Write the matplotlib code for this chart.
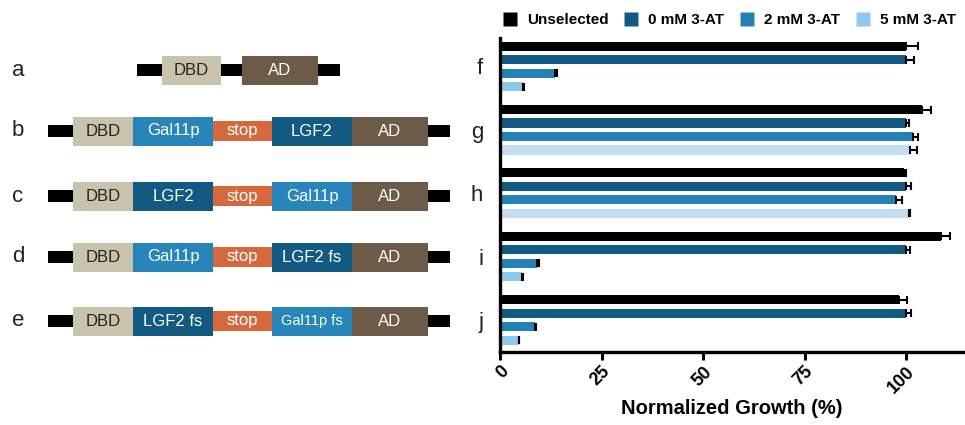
import matplotlib
matplotlib.use("Agg")
import matplotlib.pyplot as plt
from matplotlib.patches import Rectangle
from matplotlib.lines import Line2D
import numpy as np

plt.rcParams['font.family'] = ['Liberation Sans', 'DejaVu Sans']

# ---------------- data ----------------
groups = ['f', 'g', 'h', 'i', 'j']
series = ['Unselected', '0 mM 3-AT', '2 mM 3-AT', '5 mM 3-AT']
unselected = [100, 104, 99.4, 108.6, 98.3]
err_unsel = [3, 2, 0.5, 2.3, 1.8]
mm0 = [100, 100, 100, 100, 100]
err_mm0 = [2, 0.8, 1.2, 1.0, 1.2]
mm2 = [13.6, 101.6, 97.5, 9.2, 8.6]
err_mm2 = [0.4, 1.2, 1.5, 0.5, 0.3]
mm5 = [5.7, 101, 100.6, 5.3, 4.8]
err_mm5 = [0.3, 1.7, 0.3, 0.3, 0.0]
xticks = [0, 25, 50, 75, 100]

construct_labels = ['a', 'b', 'c', 'd', 'e']
constructs = [
    ['DBD', 'AD'],
    ['DBD', 'Gal11p', 'stop', 'LGF2', 'AD'],
    ['DBD', 'LGF2', 'stop', 'Gal11p', 'AD'],
    ['DBD', 'Gal11p', 'stop', 'LGF2 fs', 'AD'],
    ['DBD', 'LGF2 fs', 'stop', 'Gal11p fs', 'AD'],
]

# ---------------- styles ----------------
c_black = '#000000'
c_0 = '#135a82'
c_2 = '#2382b5'
c_5 = '#8fc8ec'
c_5pale = '#c5ddf0'
seg_color = {'DBD': '#c9c3ad', 'Gal11p': '#2785ba', 'Gal11p fs': '#2785ba',
             'stop': '#d3693c', 'LGF2': '#135a82', 'LGF2 fs': '#135a82',
             'AD': '#6b5b48'}

W, H = 965, 425
fig = plt.figure(figsize=(W / 100, H / 100), dpi=100)

# ---------------- left panel (diagrams) ----------------
axd = fig.add_axes([0, 0, 1, 1])
axd.set_xlim(0, W)
axd.set_ylim(H, 0)
axd.axis('off')

row_y = [70, 131, 196, 257, 321]
box_h = 29
stop_h = 20
line_h = 12

def draw_row(y, segs, xs, line_x0, line_x1):
    axd.add_patch(Rectangle((line_x0, y - line_h / 2), line_x1 - line_x0, line_h,
                            color='black', lw=0, zorder=1))
    for name, (x0, x1) in zip(segs, xs):
        h = stop_h if name == 'stop' else box_h
        axd.add_patch(Rectangle((x0, y - h / 2), x1 - x0, h,
                                facecolor=seg_color[name], edgecolor='none', zorder=2))
        tc = '#222222' if name == 'DBD' else 'white'
        fs = 10.5 if name == 'Gal11p fs' else 12
        axd.text((x0 + x1) / 2, y, name, color=tc, fontsize=fs,
                 ha='center', va='center', zorder=3)

for lab, y, segs in zip(construct_labels, row_y, constructs):
    axd.text(12, y, lab, fontsize=16, ha='left', va='center', color='#222222')
    if len(segs) == 2:
        draw_row(y, segs, [(162, 221), (242, 318)], 137, 340)
    else:
        draw_row(y, segs, [(73, 133), (133, 213), (213, 272), (272, 352), (352, 428)], 48, 450)

# ---------------- right panel (bars) ----------------
ax = fig.add_axes([500 / W, 1 - 352 / H, 463 / W, (352 - 38) / H])
gstep = 4.7
bh = 0.67
k = np.arange(len(groups))
vals = [unselected, mm0, mm2, mm5]
errs = [err_unsel, err_mm0, err_mm2, err_mm5]
cols = [[c_black] * 5, [c_0] * 5, [c_2] * 5, [c_5, c_5pale, c_5pale, c_5, c_5]]
for j, (v, e, c) in enumerate(zip(vals, errs, cols)):
    y = k * gstep + j
    ax.barh(y, v, height=bh, color=c, zorder=2)
    ax.errorbar(v, y, xerr=[np.zeros(len(e)), e], fmt='none', ecolor='black',
                elinewidth=1.5, capsize=3, capthick=1.5, zorder=3)

ax.set_ylim(22.67, -0.6)
ax.set_xlim(0, 114)
ax.set_yticks(k * gstep + 1.5)
ax.set_yticklabels(groups, fontsize=16, color='#222222')
ax.tick_params(axis='y', length=0, pad=12)
ax.set_xticks(xticks)
ax.set_xticklabels([str(t) for t in xticks], rotation=45, fontsize=13,
                   fontweight='bold', ha='right', va='top', rotation_mode='anchor')
ax.tick_params(axis='x', length=6, width=2.2, pad=2)
for s in ['top', 'right']:
    ax.spines[s].set_visible(False)
for s in ['left', 'bottom']:
    ax.spines[s].set_linewidth(2.4)
ax.set_xlabel('Normalized Growth (%)', fontsize=14.5, fontweight='bold', labelpad=2)

handles = [Line2D([], [], marker='s', linestyle='none', markersize=10,
                  markerfacecolor=c, markeredgecolor='none')
           for c in [c_black, c_0, c_2, c_5]]
fig.legend(handles, series, loc='center', bbox_to_anchor=(729 / W, 1 - 20 / H),
           ncol=4, frameon=False, handletextpad=0.6, columnspacing=1.0,
           prop={'weight': 'bold', 'size': 11}, handlelength=1.0,
           borderaxespad=0, borderpad=0)

fig.savefig('out.png', dpi=100)
